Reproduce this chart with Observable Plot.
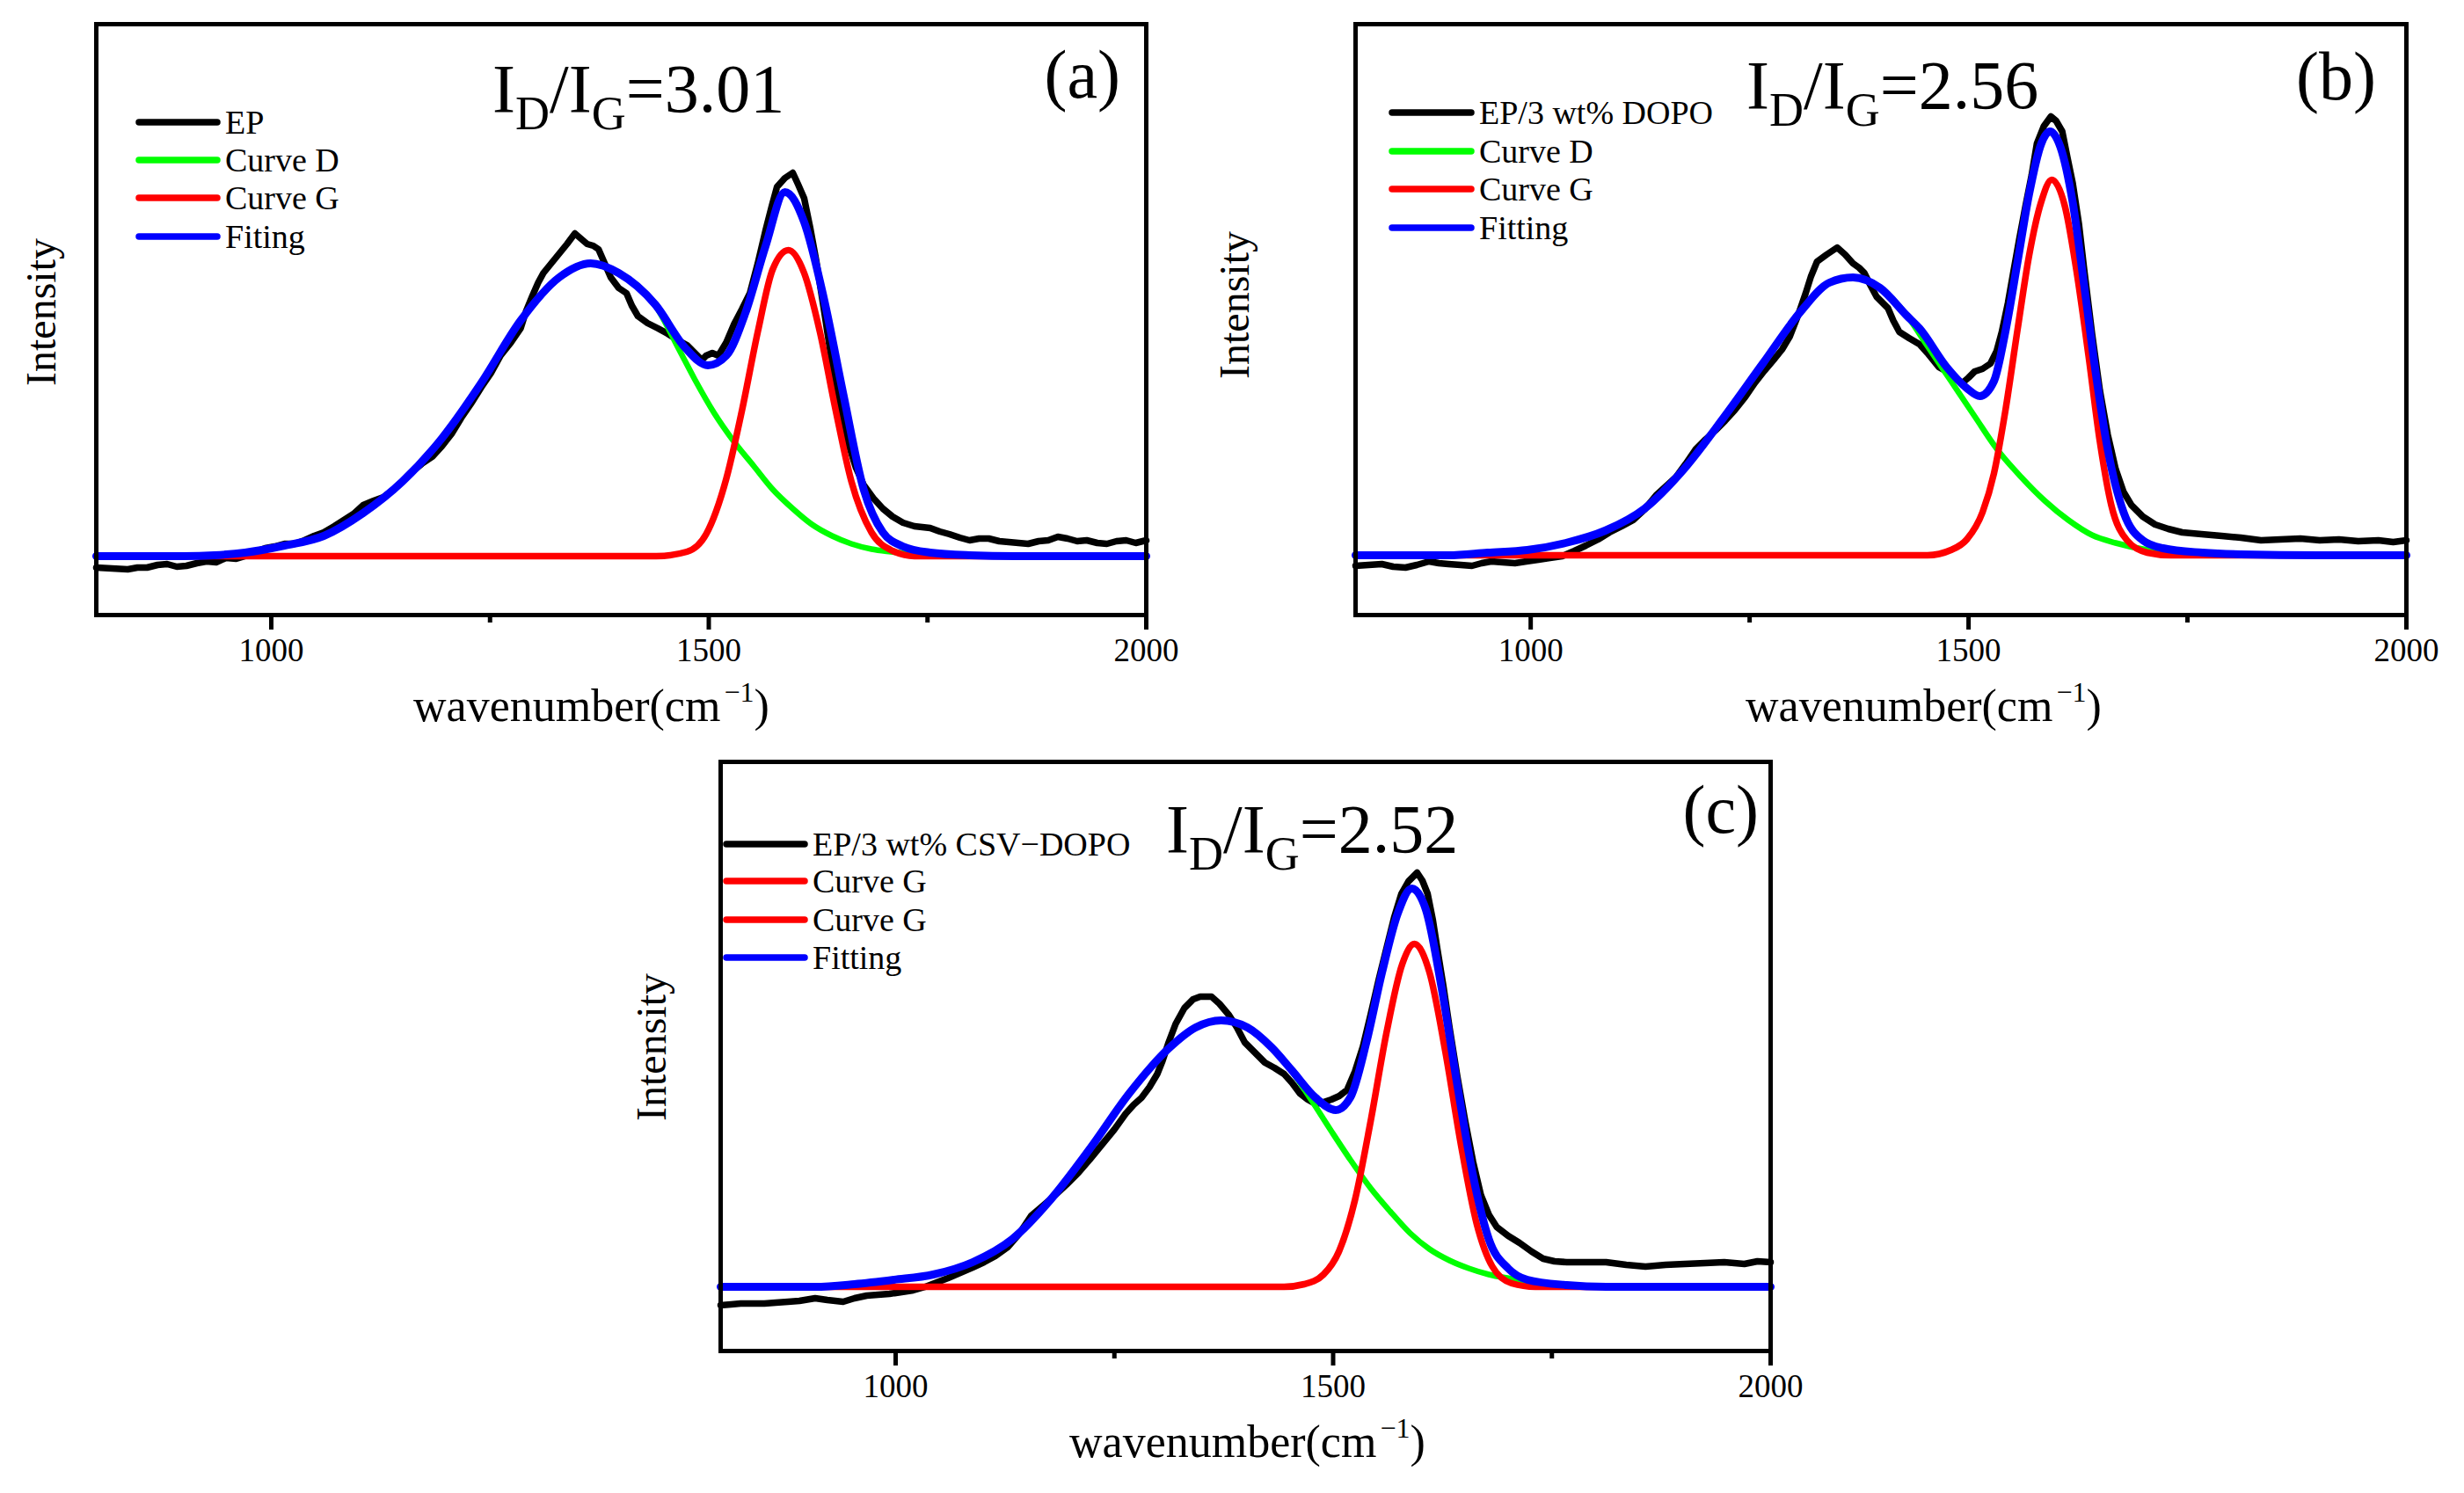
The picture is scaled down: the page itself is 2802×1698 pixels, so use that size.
<!DOCTYPE html>
<html>
<head>
<meta charset="utf-8">
<script src="https://cdn.jsdelivr.net/npm/d3@7"></script>
<script src="https://cdn.jsdelivr.net/npm/@observablehq/plot@0.6"></script>
<style>
  html, body { margin: 0; padding: 0; background: #ffffff; }
  #wrap { position: relative; width: 2802px; height: 1698px; background: #ffffff; overflow: hidden; }
</style>
</head>
<body>
<div id="wrap"></div>
<script>
// ---------------- data (wavenumber, intensity a.u.) ----------------
const majorTicks = [1000, 1500, 2000];
const minorTicks = [1250, 1750];
const xDomain = [800, 2000];

const ratiosText = ["3.01", "2.56", "2.52"];
const panelTags = ["(a)", "(b)", "(c)"];
const legendA = ["EP", "Curve D", "Curve G", "Fiting"];
const legendB = ["EP/3 wt% DOPO", "Curve D", "Curve G", "Fitting"];
const legendC = ["EP/3 wt% CSV\u2212DOPO", "Curve G", "Curve G", "Fitting"];
const legendColorsA = ["#000000", "#00ff00", "#ff0000", "#0000ff"];
const legendColorsB = ["#000000", "#00ff00", "#ff0000", "#0000ff"];
const legendColorsC = ["#000000", "#ff0000", "#ff0000", "#0000ff"];

// ---- panel (a): EP ----
const epA = [[800,54],[818,53],[836,52],[847,54],[858,54],[870,57],[881,58],[892,55],[903,56],[915,59],[926,61],[937,60],[948,65],[960,64],[970,67],[982,72],[993,76],[1004,78],[1015,81],[1027,81],[1038,85],[1049,90],[1060,94],[1072,101],[1083,108],[1094,115],[1105,125],[1117,130],[1128,134],[1139,142],[1150,152],[1161,163],[1172,172],[1184,180],[1195,192],[1206,206],[1217,224],[1228,240],[1240,259],[1251,275],[1262,295],[1274,310],[1285,326],[1291,345],[1298,362],[1305,378],[1311,389],[1320,400],[1329,411],[1338,422],[1347,434],[1354,428],[1361,422],[1368,420],[1374,416],[1381,400],[1388,384],[1397,372],[1406,366],[1412,352],[1419,340],[1430,332],[1442,326],[1453,320],[1464,313],[1475,307],[1486,296],[1492,290],[1497,295],[1504,298],[1511,295],[1520,310],[1529,331],[1538,348],[1547,366],[1556,400],[1565,438],[1572,465],[1578,487],[1587,497],[1596,503],[1602,490],[1609,474],[1616,440],[1623,402],[1632,345],[1641,286],[1650,240],[1659,197],[1668,168],[1677,148],[1688,133],[1699,121],[1710,112],[1722,105],[1735,101],[1753,99],[1764,95],[1775,92],[1787,88],[1798,85],[1809,87],[1820,87],[1832,84],[1843,83],[1854,82],[1865,81],[1877,84],[1888,85],[1899,89],[1910,87],[1921,84],[1932,85],[1944,82],[1955,81],[1966,84],[1977,85],[1988,82],[2000,85]];
const curveDA = [[800,67],[850,67],[900,67],[935,68],[970,71],[1015,79],[1060,90],[1105,116],[1150,152],[1195,201],[1240,264],[1285,335],[1329,384],[1365,400],[1397,389],[1439,352],[1466,302],[1484,268],[1506,230],[1529,197],[1551,170],[1573,143],[1596,121],[1618,103],[1641,90],[1663,81],[1686,75],[1708,72],[1753,68],[1800,67],[2000,67]];
const curveGA = [[800,67],[1400,67],[1440,67],[1475,72],[1497,92],[1520,155],[1538,233],[1556,322],[1573,393],[1591,415],[1609,389],[1627,322],[1645,233],[1663,152],[1686,94],[1708,74],[1735,67],[2000,67]];
const fitA = [[800,67],[850,67],[900,67],[935,68],[970,71],[1015,79],[1060,90],[1105,116],[1150,152],[1195,201],[1240,264],[1285,335],[1329,384],[1365,400],[1397,389],[1439,353],[1473,304],[1499,284],[1520,295],[1542,344],[1565,420],[1587,481],[1609,447],[1632,358],[1654,250],[1677,143],[1699,94],[1722,78],[1753,71],[1798,68],[1850,67],[2000,67]];

// ---- panel (b): EP/3 wt% DOPO ----
const epB = [[800,56],[815,57],[830,58],[843,55],[857,54],[870,57],[884,61],[895,59],[906,58],[920,57],[933,56],[944,59],[955,61],[968,60],[982,59],[995,61],[1009,63],[1022,65],[1036,67],[1050,73],[1063,79],[1077,86],[1090,94],[1104,101],[1117,108],[1130,120],[1144,137],[1155,147],[1166,157],[1177,172],[1188,188],[1200,200],[1211,210],[1222,221],[1233,233],[1245,248],[1256,264],[1267,278],[1278,291],[1287,302],[1296,317],[1305,340],[1314,366],[1320,385],[1327,402],[1338,410],[1350,418],[1359,410],[1368,400],[1375,395],[1381,389],[1388,375],[1395,362],[1401,356],[1408,349],[1414,335],[1421,322],[1432,315],[1444,308],[1453,298],[1466,282],[1475,277],[1484,270],[1493,264],[1500,270],[1507,277],[1516,280],[1525,286],[1532,300],[1538,322],[1545,355],[1551,389],[1558,428],[1565,465],[1572,500],[1578,536],[1586,556],[1594,567],[1600,562],[1607,550],[1613,520],[1619,491],[1626,445],[1632,393],[1641,320],[1650,255],[1659,205],[1668,166],[1677,140],[1686,125],[1699,112],[1713,103],[1728,98],[1744,94],[1766,92],[1789,90],[1811,88],[1834,85],[1856,86],[1879,87],[1901,85],[1923,86],[1945,84],[1968,85],[1985,83],[2000,85]];
const curveDB = [[800,68],[850,68],[906,68],[951,71],[996,74],[1040,82],[1085,96],[1130,121],[1175,166],[1220,224],[1265,286],[1309,346],[1341,378],[1368,384],[1399,372],[1430,340],[1453,306],[1480,266],[1507,226],[1533,188],[1560,157],[1587,130],[1614,108],[1641,91],[1668,82],[1699,75],[1731,71],[1767,69],[1811,68],[2000,68]];
const curveGB = [[800,68],[1400,68],[1453,68],[1480,74],[1498,86],[1516,117],[1529,161],[1542,232],[1556,325],[1569,408],[1583,470],[1595,495],[1610,465],[1623,393],[1637,295],[1650,197],[1663,125],[1681,85],[1704,71],[1731,68],[2000,68]];
const fitB = [[800,68],[850,68],[906,68],[951,71],[996,74],[1040,82],[1085,96],[1130,121],[1175,166],[1220,224],[1265,286],[1309,346],[1341,378],[1368,384],[1399,372],[1430,340],[1444,326],[1475,282],[1498,258],[1513,249],[1529,266],[1542,322],[1556,402],[1569,478],[1583,536],[1593,550],[1605,532],[1619,469],[1632,375],[1645,277],[1659,188],[1677,117],[1699,85],[1722,76],[1767,71],[1811,69],[1900,68],[2000,68]];

// ---- panel (c): EP/3 wt% CSV-DOPO ----
const epC = [[800,52],[812,53],[823,54],[836,54],[850,54],[863,55],[877,56],[890,57],[908,60],[922,58],[940,56],[953,60],[967,63],[980,64],[993,65],[1007,67],[1020,69],[1034,73],[1047,78],[1060,83],[1074,89],[1088,95],[1101,101],[1114,108],[1128,118],[1141,133],[1155,154],[1168,165],[1182,177],[1195,189],[1209,203],[1222,218],[1236,235],[1250,252],[1263,270],[1272,280],[1281,288],[1290,300],[1299,315],[1305,330],[1312,351],[1320,372],[1330,390],[1340,400],[1348,403],[1361,403],[1370,395],[1381,382],[1390,368],[1399,351],[1410,340],[1422,328],[1433,322],[1444,315],[1453,305],[1462,293],[1471,286],[1480,281],[1489,283],[1498,286],[1507,290],[1516,297],[1525,318],[1534,346],[1543,383],[1552,422],[1561,458],[1570,494],[1578,520],[1586,534],[1596,544],[1602,535],[1608,520],[1614,490],[1619,458],[1626,415],[1633,368],[1642,312],[1651,261],[1660,215],[1669,177],[1678,155],[1687,141],[1700,131],[1713,123],[1727,113],[1740,105],[1753,102],[1767,101],[1790,101],[1812,101],[1835,98],[1857,96],[1880,98],[1902,99],[1925,100],[1947,101],[1970,99],[1985,102],[2000,101]];
const curveDC = [[800,73],[850,73],[908,73],[953,76],[998,81],[1043,87],[1088,101],[1133,127],[1177,172],[1222,230],[1267,293],[1312,344],[1343,368],[1372,376],[1402,368],[1430,345],[1453,318],[1476,284],[1498,250],[1520,217],[1543,185],[1565,159],[1588,134],[1610,116],[1633,103],[1655,94],[1678,87],[1704,82],[1731,77],[1767,75],[1812,73],[2000,73]];
const curveGC = [[800,73],[1400,73],[1444,73],[1467,76],[1489,87],[1507,114],[1525,172],[1543,262],[1561,362],[1579,440],[1593,463],[1610,431],[1628,342],[1646,235],[1664,145],[1682,96],[1704,77],[1731,73],[2000,73]];
const fitC = [[800,73],[850,73],[908,73],[953,76],[998,81],[1043,87],[1088,101],[1133,127],[1177,172],[1222,230],[1267,293],[1312,344],[1343,368],[1372,376],[1402,368],[1430,345],[1453,319],[1480,288],[1503,274],[1520,289],[1538,351],[1556,431],[1574,498],[1590,526],[1606,502],[1624,413],[1642,302],[1660,199],[1678,127],[1700,94],[1722,81],[1767,75],[1812,73],[1900,73],[2000,73]];

// ---------------- layout (page pixels) ----------------
const FONT = "'Liberation Serif', 'Times New Roman', Times, serif";
const panels = [
  { ep: epA, d: curveDA, g: curveGA, fit: fitA, legend: legendA, colors: legendColorsA, ratio: ratiosText[0], tag: panelTags[0],
    origin: [0, 0], frame: {left: 109, top: 27, width: 1194, height: 672},
    legendX: [158, 247, 256], legendRows: [139, 182, 225, 269],
    title: [560, 127], tagPos: [1274, 111], xlab: [470, 820], ylab: [63, 355] },
  { ep: epB, d: curveDB, g: curveGB, fit: fitB, legend: legendB, colors: legendColorsB, ratio: ratiosText[1], tag: panelTags[1],
    origin: [1391, 0], frame: {left: 1541, top: 27, width: 1195, height: 672},
    legendX: [1583, 1673, 1682], legendRows: [128, 172, 215, 259],
    title: [1986, 123], tagPos: [2702, 113], xlab: [1985, 820], ylab: [1420, 347] },
  { ep: epC, d: curveDC, g: curveGC, fit: fitC, legend: legendC, colors: legendColorsC, ratio: ratiosText[2], tag: panelTags[2],
    origin: [669, 839], frame: {left: 819, top: 866, width: 1194, height: 670},
    legendX: [826, 915, 924], legendRows: [960, 1002, 1046, 1089],
    title: [1326, 969], tagPos: [2000, 947], xlab: [1216, 1657], ylab: [757, 1191] }
];

const wrap = document.getElementById("wrap");
const X = d => d[0], Y = d => d[1];

panels.forEach(p => {
  const f = p.frame;
  const ox = p.origin[0], oy = p.origin[1];
  const ml = f.left - ox, mt = f.top - oy, mr = 30, mb = 150;
  const width = ml + f.width + mr, height = mt + f.height + mb;

  const svg = Plot.plot({
    width, height,
    marginLeft: ml, marginRight: mr, marginTop: mt, marginBottom: mb,
    x: {domain: xDomain},
    y: {domain: [0, f.height], axis: null},
    style: {fontFamily: FONT, fontSize: "36px", color: "#000", background: "transparent", overflow: "visible"},
    marks: [
      Plot.line(p.ep, {x: X, y: Y, stroke: "#000000", strokeWidth: 7.5, curve: "linear"}),
      Plot.line(p.d, {x: X, y: Y, stroke: "#00ff00", strokeWidth: 6.5, curve: "monotone-x"}),
      Plot.line(p.g, {x: X, y: Y, stroke: "#ff0000", strokeWidth: 7.5, curve: "monotone-x"}),
      Plot.line(p.fit, {x: X, y: Y, stroke: "#0000ff", strokeWidth: 9, curve: "monotone-x"}),
      Plot.frame({stroke: "#000000", strokeWidth: 5}),
      Plot.axisX({ticks: majorTicks, tickSize: 17, tickPadding: 9, strokeWidth: 5, fontSize: 37, label: null, tickFormat: d => String(d)}),
      Plot.axisX({ticks: minorTicks, tickSize: 9, strokeWidth: 5, label: null, tickFormat: () => ""})
    ]
  });
  svg.style.position = "absolute";
  svg.style.left = ox + "px";
  svg.style.top = oy + "px";
  wrap.appendChild(svg);

  const s = d3.select(svg);
  const g = s.append("g").attr("font-family", FONT).attr("fill", "#000").attr("text-anchor", "start");

  // legend
  p.legend.forEach((label, i) => {
    const ry = p.legendRows[i] - oy;
    g.append("line")
      .attr("x1", p.legendX[0] - ox).attr("x2", p.legendX[1] - ox)
      .attr("y1", ry).attr("y2", ry)
      .attr("stroke", p.colors[i]).attr("stroke-width", 7.5).attr("stroke-linecap", "round");
    g.append("text")
      .attr("x", p.legendX[2] - ox).attr("y", ry).attr("dy", "0.33em")
      .attr("text-anchor", "start")
      .attr("font-size", 38).text(label);
  });

  // I_D/I_G title
  const t = g.append("text").attr("x", p.title[0] - ox).attr("y", p.title[1] - oy)
    .attr("text-anchor", "start").attr("font-size", 78);
  t.append("tspan").text("I");
  t.append("tspan").attr("font-size", 54).attr("dy", 20).text("D");
  t.append("tspan").attr("dy", -20).text("/I");
  t.append("tspan").attr("font-size", 54).attr("dy", 20).text("G");
  t.append("tspan").attr("dy", -20).text("=" + p.ratio);

  // panel tag
  g.append("text").attr("x", p.tagPos[0] - ox).attr("y", p.tagPos[1] - oy)
    .attr("text-anchor", "end").attr("font-size", 78).text(p.tag);

  // x label
  const xl = g.append("text").attr("x", p.xlab[0] - ox).attr("y", p.xlab[1] - oy)
    .attr("text-anchor", "start").attr("font-size", 52);
  xl.append("tspan").text("wavenumber(cm");
  xl.append("tspan").attr("font-size", 32).attr("dx", 4).attr("dy", -22).text("\u22121");
  xl.append("tspan").attr("dy", 22).text(")");

  // y label
  g.append("text")
    .attr("transform", `translate(${p.ylab[0] - ox},${p.ylab[1] - oy}) rotate(-90)`)
    .attr("text-anchor", "middle").attr("font-size", 48).text("Intensity");
});
</script>
</body>
</html>
